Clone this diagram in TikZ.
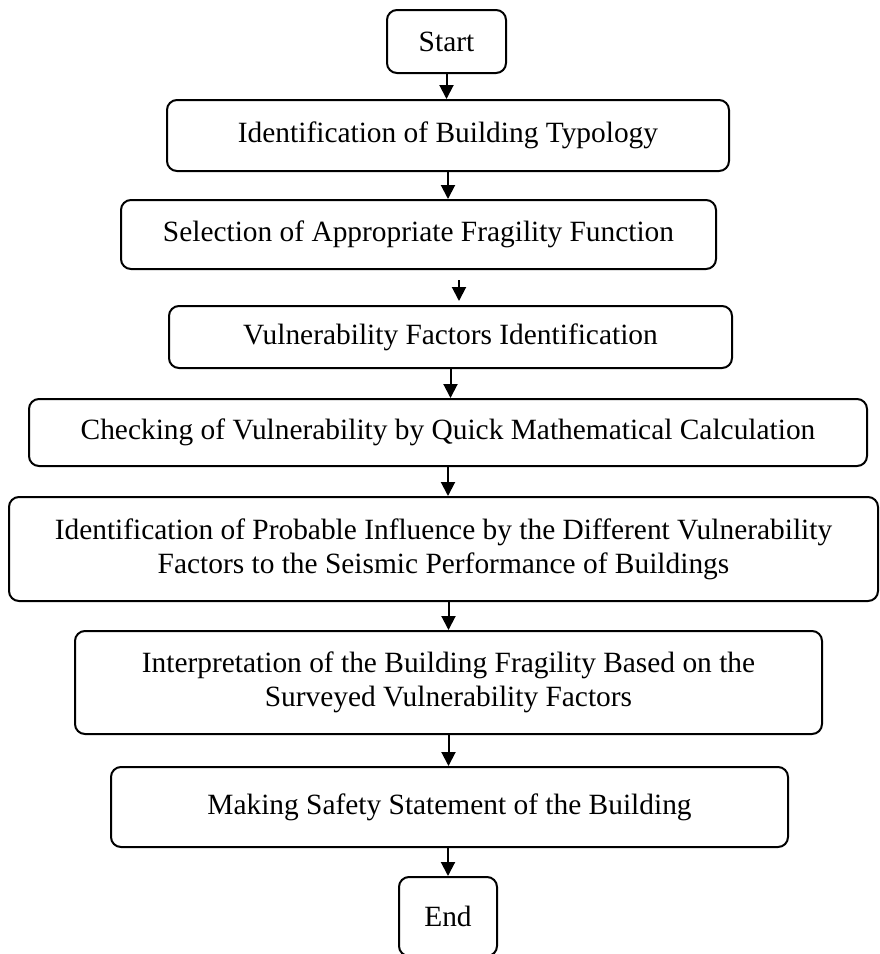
\documentclass[tikz,border=0pt]{standalone}
\usepackage{fontspec}
\setmainfont{Liberation Serif}
\usetikzlibrary{arrows.meta}

\begin{document}
\begin{tikzpicture}[x=0.5pt, y=-0.5pt, step_box/.style={draw, line width=1pt, rounded corners=5pt, align=center, inner sep=0pt, font=\fontsize{14.7}{17}\selectfont}, flow_arrow/.style={line width=1pt, -{Triangle[width=7pt,length=7pt]}}]
				\useasboundingbox (0,0) rectangle (879,954);
				\node[step_box, minimum width=59.5pt, minimum height=31.5pt](start) at (446.5,41.5){Start};
				\node[step_box, minimum width=281pt, minimum height=35.5pt](typology) at (448,135.5){Identification of Building Typology};
				\node[step_box, minimum width=297.5pt, minimum height=34.5pt](fragility) at (418.5,234.5){Selection of Appropriate Fragility Function};
				\node[step_box, minimum width=281.5pt, minimum height=31pt](factors) at (450.5,337){Vulnerability Factors Identification};
				\node[step_box, minimum width=419pt, minimum height=33.5pt](checking) at (448,432.5){Checking of Vulnerability by Quick Mathematical Calculation};
				\node[step_box, minimum width=434.5pt, minimum height=52pt](influence) at (443.5,549){Identification of Probable Influence by the Different Vulnerability\\Factors to the Seismic Performance of Buildings};
				\node[step_box, minimum width=373.5pt, minimum height=51.5pt](interpret) at (448.5,682.5){Interpretation of the Building Fragility Based on the\\Surveyed Vulnerability Factors};
				\node[step_box, minimum width=338.5pt, minimum height=40pt](safety) at (449.5,807){Making Safety Statement of the Building};
				\node[step_box, minimum width=49pt, minimum height=39.5pt](end) at (448,916.5){End};
				\coordinate (gap) at ([xshift=20.25pt]fragility.south);
				\draw[flow_arrow](start.south) -- (start.south |- typology.north);
				\draw[flow_arrow](typology.south) -- (typology.south |- fragility.north);
				\draw[flow_arrow, shorten <=5pt, shorten >=2pt](gap) -- (gap |- factors.north);
				\draw[flow_arrow](factors.south) -- (factors.south |- checking.north);
				\draw[flow_arrow](checking.south) -- (checking.south |- influence.north);
				\draw[flow_arrow](influence.south -| interpret.north) -- (interpret.north);
				\draw[flow_arrow](interpret.south) -- (interpret.south |- safety.north);
				\draw[flow_arrow](end.north |- safety.south) -- (end.north);
			\end{tikzpicture}
\end{document}
